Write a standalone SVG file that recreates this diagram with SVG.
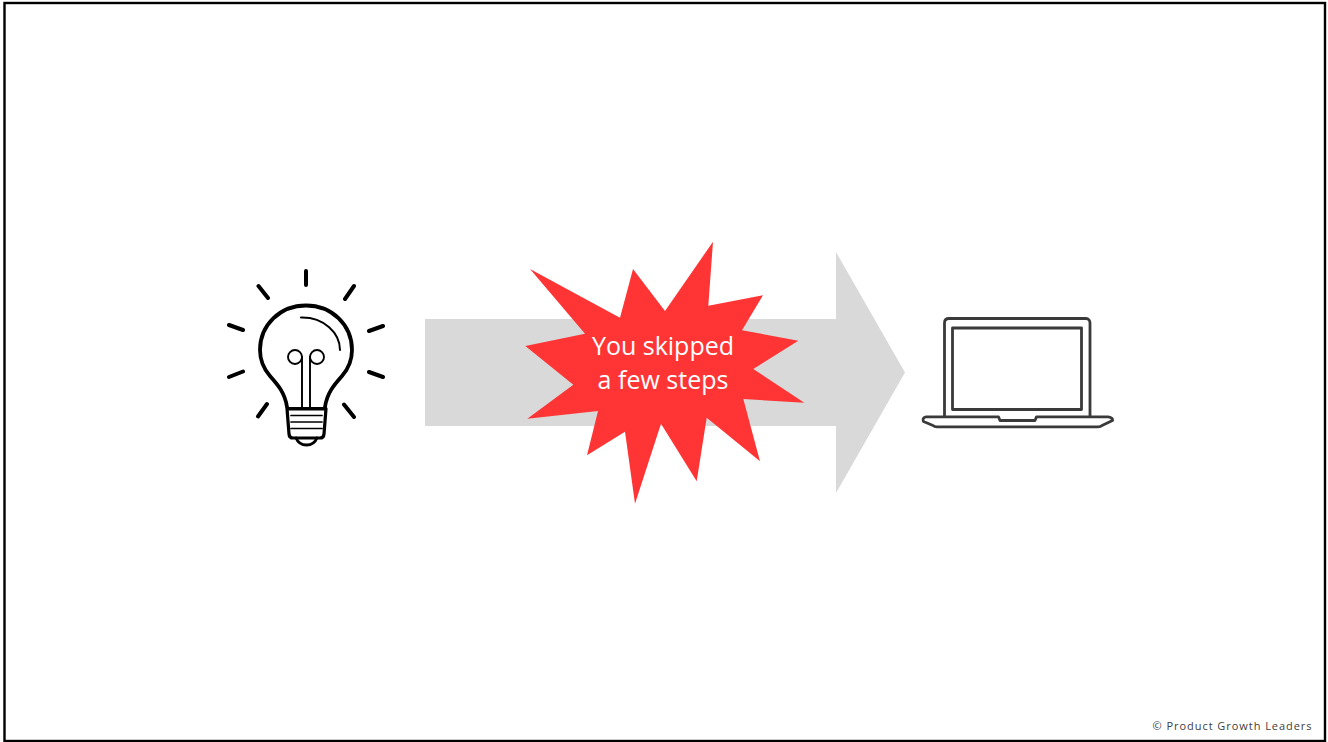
<svg xmlns="http://www.w3.org/2000/svg" width="1328" height="742" viewBox="0 0 1328 742">
<style>
.b{fill:none;stroke:#000;stroke-linecap:round;stroke-linejoin:round}
.l{fill:none;stroke:#3a3a3a;stroke-width:2.800;stroke-linejoin:round}
text{font-family:"Open Sans","Noto Sans",sans-serif}
</style>
<rect width="1328" height="742" fill="#fff"/>
<rect id="frame" x="4.500" y="3" width="1320.500" height="738" fill="#fff" stroke="#000" stroke-width="2.400"/>
<g id="connectors"><path id="arrow" d="M425 319H836V252L905 372.500L836 493V426H425Z" fill="#d9d9d9"/></g>
<g id="bulb">
<path class="b" stroke-width="3.800" d="M287 407C285 393 278 385 270 376C263 368 260 360 260 350C260 325 280 305.500 306 305.500C332 305.500 352 325 352 350C352 360 349 368 342 376C334 385 327 393 325 407"/>
<path class="b" stroke-width="2" d="M301 317.500C324 317 340 333 340 350"/>
<circle class="b" stroke-width="1.900" cx="295" cy="357" r="7"/>
<circle class="b" stroke-width="1.900" cx="317" cy="357" r="7"/>
<path class="b" stroke-width="1.900" d="M302 357V408M310 357V408"/>
<path class="b" stroke-width="3.200" d="M287 408.500H326L324 434C323.800 436.500 322 438 320 438H293C291 438 289.200 436.500 289 434Z"/>
<path d="M287 407H326V410.500H287Z" fill="#000"/>
<path class="b" stroke-width="1.700" d="M291 415.500H322M291 422H322M291 428.500H322"/>
<path class="b" stroke-width="2.800" d="M296 438C298 443 302 445 306.500 445C311 445 315 443 317 438"/>
<path class="b" stroke-width="4" d="M306 271V285M258.500 286L268 298M354 286L345 299M229 325L243 330M383 326L369 331M229 377L243 371.500M383 377L369 372M267 404L258 416.500M344 404.500L354 417"/>
</g>
<g id="burst">
<path d="M530 269L620 317.700L633 269L665 311L713 241.700L708.300 305.700L763 295.300L742 330.300L798.300 340.700L753.300 369L804.300 402.700L743.300 399L760 461.300L706.700 417.700L696.700 481.300L661 423.700L635 503.700L625 431.700L587 455.300L598 411L527.300 418.700L573.300 384.700L525.300 346L585 333.700Z" fill="#ff3535"/>
<text x="663" y="355" font-size="25" fill="#fff" text-anchor="middle">You skipped</text>
<text x="663" y="389" font-size="25" fill="#fff" text-anchor="middle">a few steps</text>
</g>
<g id="laptop">
<path class="l" d="M944.500 416.500V323C944.500 320.500 946 318.500 949 318.500H1086C1088.500 318.500 1090 320.500 1090 323V416.500"/>
<rect class="l" x="952.500" y="328" width="129" height="81.500"/>
<path class="l" d="M926 416.800H998.500L1000 420.500H1035L1036.500 416.800H1108C1111 417 1113 419 1112.500 420.500L1102 425.500C1101 426.500 1100 426.800 1098 426.800H937C935 426.800 934 426.500 933 425.500L923.500 421.500C922.500 419 923.500 417 926 416.800Z"/>
</g>
<text id="credit" x="1312.500" y="730" font-size="11" letter-spacing="0.950" fill="#404040" text-anchor="end">© Product Growth Leaders</text>
</svg>
